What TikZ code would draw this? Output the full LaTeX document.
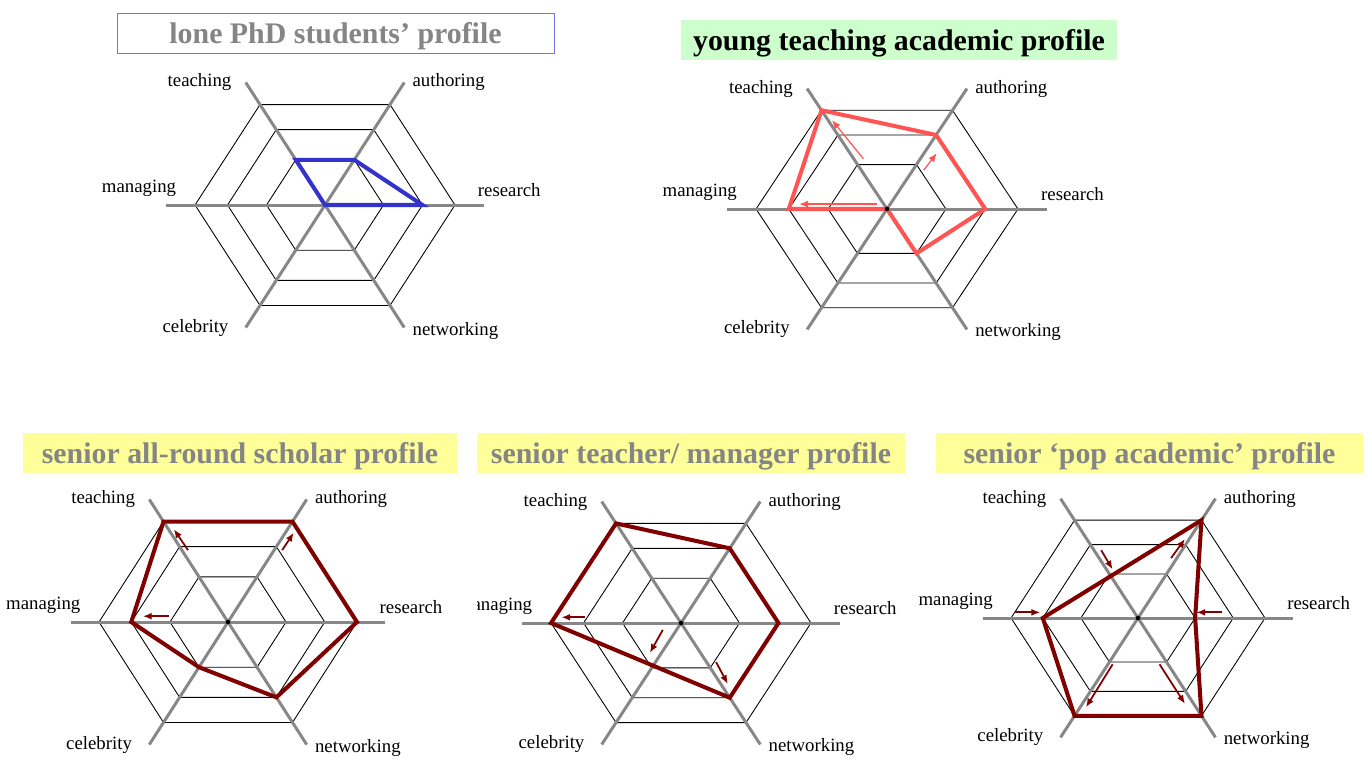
\documentclass[tikz,border=0pt]{standalone}
\usepackage{fontspec}
\setmainfont{Liberation Serif}
\usetikzlibrary{arrows.meta}
\definecolor{axisgray}{rgb}{0.53,0.53,0.53}
\definecolor{titlegray}{rgb}{0.52,0.52,0.52}
\definecolor{frameblue}{rgb}{0.45,0.45,0.93}
\definecolor{ltgreen}{rgb}{0.8,1,0.8}
\definecolor{ltyellow}{rgb}{1,1,0.6}
\definecolor{penblue}{rgb}{0.2,0.2,0.8}
\definecolor{penred}{rgb}{1,0.33,0.33}
\definecolor{darkred}{rgb}{0.5,0,0}

\tikzset{
  hexline/.style={black, line width=0.5pt},
  axisline/.style={axisgray, line width=1.7pt},
  lbl/.style={font=\fontsize{10.7}{13}\selectfont, inner sep=0pt},
  titlebox/.style={font=\fontsize{17}{20}\selectfont\bfseries, inner sep=0pt,
    minimum height=0.8cm, text height=16pt, text depth=3.7pt},
  profile/.style={line width=2.3pt, line join=miter},
  trend/.style={line width=1pt, -{Latex[length=5pt,width=4pt]}},
  hub/.style={black}
}

% hexagon grid, axes and axis labels of one chart
\newcommand{\radargrid}[1]{%
  \foreach \r in {0.45,0.75,1}
    \draw[hexline] (0:\r) -- (60:\r) -- (120:\r) -- (180:\r) -- (240:\r) -- (300:\r) -- cycle;
  \foreach \a in {0,60,120}
    \draw[axisline] (\a:1.22) -- (\a+180:1.22);
  \node[lbl, anchor=east, xshift=-0.28cm] (#1-teach) at (120:1.22) {teaching};
  \node[lbl, anchor=west, xshift=0.16cm] (#1-auth) at (60:1.22) {authoring};
  \node[lbl, anchor=south east, xshift=0.2cm, yshift=0.16cm] (#1-man) at (180:1.22) {managing};
  \node[lbl, anchor=south west, xshift=-0.12cm, yshift=0.16cm] (#1-res) at (0:1.22) {research};
  \node[lbl, anchor=east, xshift=-0.34cm] (#1-celeb) at (240:1.22) {celebrity};
  \node[lbl, anchor=west, xshift=0.16cm, yshift=-0.06cm] (#1-net) at (300:1.22) {networking};
}

\begin{document}
\begin{tikzpicture}[x=0.02cm, y=-0.02cm]
\useasboundingbox (0,0) rectangle (1368,758);

% titles
\node[titlebox, minimum width=8.74cm, fill=white, draw=frameblue, text=titlegray] (phd) at (335.5,33) {lone PhD students’ profile};
\node[titlebox, minimum width=8.72cm, fill=ltgreen] (young) at (899,40) {young teaching academic profile};
\node[titlebox, minimum width=8.68cm, fill=ltyellow, text=titlegray] (scholar) at (240,453) {senior all-round scholar profile};
\node[titlebox, minimum width=8.56cm, fill=ltyellow, text=titlegray] (manager) at (691,453) {senior teacher/ manager profile};
\node[titlebox, minimum width=8.54cm, fill=ltyellow, text=titlegray] (pop) at (1149.5,453) {senior ‘pop academic’ profile};

% lone PhD student
\begin{scope}[shift={(325,205)}, x=2.6cm, y=2.32cm]
\radargrid{phd}
\draw[profile, penblue] (0,0) -- (0:0.75) -- (60:0.45) -- (120:0.45) -- cycle;
\end{scope}

% young teaching academic
\begin{scope}[shift={(887,209)}, x=2.62cm, y=2.28cm]
\radargrid{young}
\draw[profile, penred] (120:1) -- (60:0.75) -- (0:0.75) -- (300:0.45) -- (0,0) -- (180:0.75) -- cycle;
\draw[trend, penred, line width=0.7pt] (-0.18,0.44) -- (-0.42,0.78);
\draw[trend, penred, line width=0.7pt] (0.28,0.34) -- (0.38,0.49);
\draw[trend, penred, line width=0.7pt] (-0.08,0.043) -- (-0.67,0.043);
\fill[hub] (0,0) circle (1.3pt);
\end{scope}

% senior all-round scholar
\begin{scope}[shift={(228,622)}, x=2.58cm, y=2.32cm]
\radargrid{scholar}
\draw[profile, darkred] (120:1) -- (60:1) -- (0:1) -- (300:0.75) -- (240:0.45) -- (180:0.75) -- cycle;
\draw[trend, darkred] (-0.31,0.62) -- (-0.42,0.80);
\draw[trend, darkred] (0.42,0.62) -- (0.51,0.77);
\draw[trend, darkred] (-0.46,0.05) -- (-0.66,0.05);
\fill[hub] (0,0) circle (1.3pt);
\end{scope}

% senior teacher / manager
\begin{scope}
\clip (477,470) rectangle (925,758);
\begin{scope}[shift={(681,623)}, x=2.6cm, y=2.3cm]
\radargrid{manager}
\draw[profile, darkred] (120:1) -- (60:0.75) -- (0:0.75) -- (300:0.75) -- (180:1) -- cycle;
\draw[trend, darkred] (-0.74,0.05) -- (-0.92,0.05);
\draw[trend, darkred] (-0.14,-0.06) -- (-0.24,-0.26);
\draw[trend, darkred] (0.27,-0.34) -- (0.36,-0.53);
\fill[hub] (0,0) circle (1.3pt);
\end{scope}
\end{scope}

% senior pop academic
\begin{scope}[shift={(1138,618)}, x=2.54cm, y=2.26cm]
\radargrid{pop}
\draw[profile, darkred] (60:1) -- (180:0.75) -- (240:1) -- (300:1) -- (0:0.45) -- cycle;
\draw[trend, darkred] (-0.29,0.60) -- (-0.20,0.43);
\draw[trend, darkred] (0.26,0.53) -- (0.37,0.70);
\draw[trend, darkred] (-0.97,0.05) -- (-0.77,0.05);
\draw[trend, darkred] (0.66,0.05) -- (0.46,0.05);
\draw[trend, darkred] (-0.20,-0.41) -- (-0.41,-0.79);
\draw[trend, darkred] (0.17,-0.41) -- (0.37,-0.76);
\fill[hub] (0,0) circle (1.3pt);
\end{scope}
\end{tikzpicture}
\end{document}
